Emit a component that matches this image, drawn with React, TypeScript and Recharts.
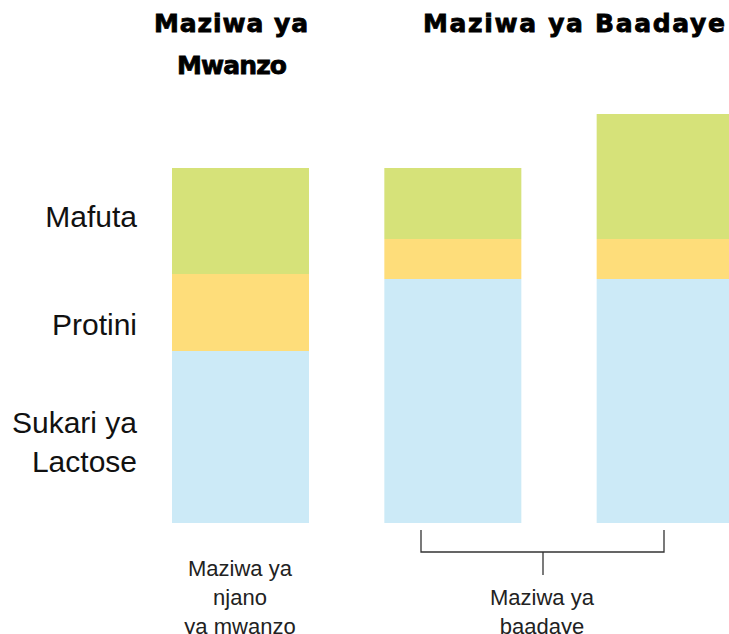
import React from 'react';
import { BarChart, Bar, XAxis, YAxis } from 'recharts';

// composition of each milk sample (relative amounts)
const samples = ['Maziwa ya njano ya mwanzo', 'Maziwa ya baadaye 1', 'Maziwa ya baadaye 2'];
const lactose = [172, 244, 244];
const protein = [77, 40, 40];
const fat = [106, 71, 125];

const data = samples.map((name, i) => ({
  name,
  lactose: lactose[i],
  protein: protein[i],
  fat: fat[i],
}));

const BLUE = '#CCEAF7';
const YELLOW = '#FEDD7A';
const GREEN = '#D6E279';

const labelFont = '"Liberation Sans", Arial, sans-serif';
const titleFont = '"DejaVu Sans", sans-serif';

const Overlay: React.FC = () => (
  <svg width={729} height={634} style={{ position: 'absolute', left: 0, top: 0, pointerEvents: 'none' }}>
    <g fontFamily={titleFont} fontWeight={900} fontSize={25} fill="#000" stroke="#000" strokeWidth={0.8}
      textAnchor="middle" lengthAdjust="spacingAndGlyphs">
      <text x={231} y={32} textLength={154}>Maziwa ya</text>
      <text x={232} y={74} textLength={110}>Mwanzo</text>
      <text x={574} y={32} textLength={302}>Maziwa ya Baadaye</text>
    </g>
    <g fontFamily={labelFont} fontSize={30} fill="#111" textAnchor="end">
      <text x={137} y={227}>Mafuta</text>
      <text x={137} y={335}>Protini</text>
      <text x={137} y={433}>Sukari ya</text>
      <text x={137} y={472}>Lactose</text>
    </g>
    <g fontFamily={labelFont} fontSize={22} fill="#222" textAnchor="middle">
      <text x={240} y={576}>Maziwa ya</text>
      <text x={240} y={605}>njano</text>
      <text x={240} y={634}>ya mwanzo</text>
      <text x={542} y={605}>Maziwa ya</text>
      <text x={542} y={634}>baadaye</text>
    </g>
    <g stroke="#333" strokeWidth={1.3} fill="none">
      <path d="M421 530 V552 H664 V530" />
      <path d="M543 552 V575" />
    </g>
  </svg>
);

export default function App() {
  return (
    <div style={{ position: 'absolute', left: 0, top: 0, width: 729, height: 634, overflow: 'hidden', background: '#fff' }}>
      <BarChart width={771} height={634} data={data} margin={{ top: 114, right: 0, bottom: 111, left: 134 }}>
        <XAxis dataKey="name" hide />
        <YAxis hide domain={[0, 409]} />
        <Bar dataKey="lactose" stackId="a" fill={BLUE} barSize={137} isAnimationActive={false} />
        <Bar dataKey="protein" stackId="a" fill={YELLOW} barSize={137} isAnimationActive={false} />
        <Bar dataKey="fat" stackId="a" fill={GREEN} barSize={137} isAnimationActive={false} />
      </BarChart>
      <Overlay />
    </div>
  );
}
